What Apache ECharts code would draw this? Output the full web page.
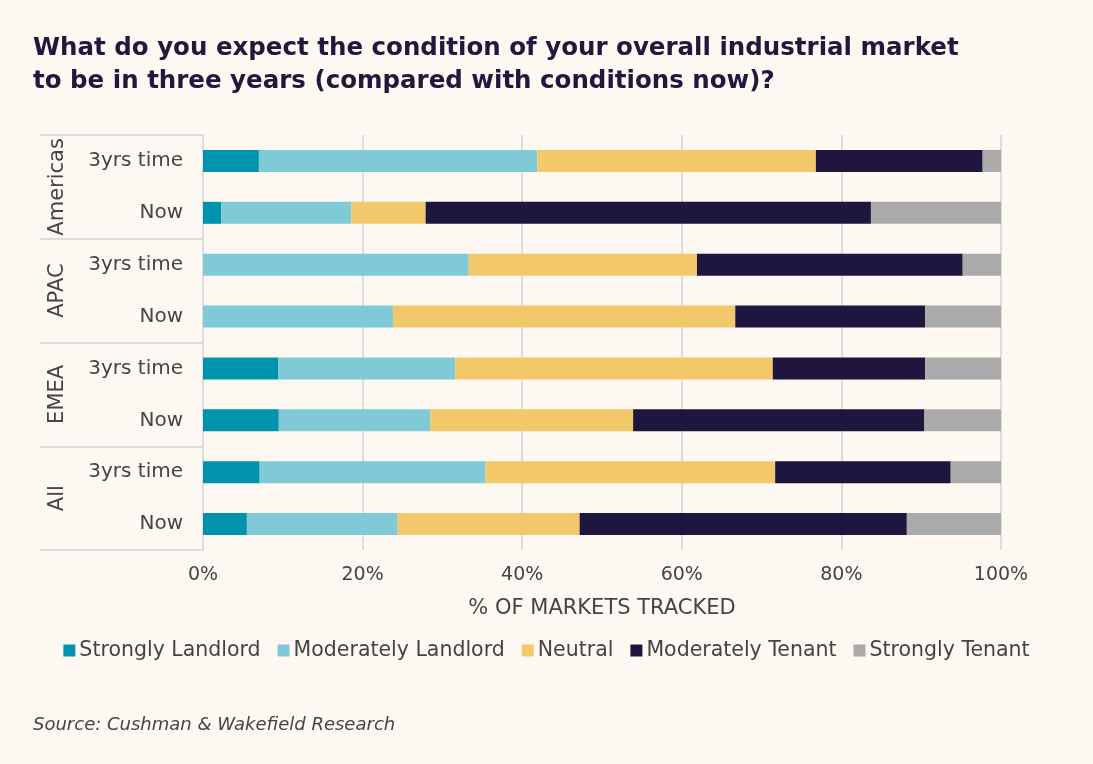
<!DOCTYPE html>
<html>
<head>
<meta charset="utf-8">
<script src="https://cdn.jsdelivr.net/npm/echarts@6/dist/echarts.min.js"></script>
<style>
  html, body { margin: 0; padding: 0; background: #fdf9f2; }
  #chart { width: 1093px; height: 764px; }
</style>
</head>
<body>
<div id="chart"></div>
<script>
// rows top to bottom
const rowLabels = ['3yrs time', 'Now', '3yrs time', 'Now', '3yrs time', 'Now', '3yrs time', 'Now'];
const regions = ['Americas', 'APAC', 'EMEA', 'All'];
const seriesNames = ['Strongly Landlord', 'Moderately Landlord', 'Neutral', 'Moderately Tenant', 'Strongly Tenant'];

// % of markets tracked, one value per row
const stronglyLandlord = [7.0, 2.3, 0, 0, 9.4, 9.5, 7.1, 5.5];
const moderatelyLandlord = [34.9, 16.3, 33.3, 23.8, 22.2, 19.0, 28.3, 18.9];
const neutral = [34.9, 9.3, 28.6, 42.9, 39.8, 25.4, 36.3, 22.8];
const moderatelyTenant = [20.9, 55.8, 33.3, 23.8, 19.1, 36.5, 22.0, 41.0];
const stronglyTenant = [2.3, 16.3, 4.8, 9.5, 9.5, 9.6, 6.3, 11.8];

const xTicks = [0, 20, 40, 60, 80, 100];

const colors = ['#0093ad', '#80c9d6', '#f3c86a', '#1e163e', '#aaaaaa'];
const textColor = '#444444';
const lineColor = '#dcdcdc';
const fontFamily = '"DejaVu Sans", sans-serif';

const chart = echarts.init(document.getElementById('chart'));

const values = [stronglyLandlord, moderatelyLandlord, neutral, moderatelyTenant, stronglyTenant];

chart.setOption({
  backgroundColor: '#fdf9f2',
  textStyle: { fontFamily },
  color: colors,
  title: [
    {
      text: 'What do you expect the condition of your overall industrial market\nto be in three years (compared with conditions now)?',
      left: 28,
      top: 27,
      textStyle: { fontSize: 24.5, fontWeight: 'bold', color: '#1e1a3e', lineHeight: 33, fontFamily }
    },
    {
      text: 'Source: Cushman & Wakefield Research',
      left: 28,
      top: 711,
      textStyle: { fontSize: 18, fontStyle: 'italic', fontWeight: 'normal', color: textColor, fontFamily }
    }
  ],
  legend: {
    data: seriesNames,
    left: 'center',
    top: 635,
    icon: 'rect',
    itemWidth: 12,
    itemHeight: 12,
    itemGap: 17,
    textStyle: { fontSize: 20.5, color: textColor, padding: [0, 0, 0, -1] }
  },
  grid: { left: 203, right: 92, top: 135, bottom: 214 },
  xAxis: {
    type: 'value',
    min: xTicks[0],
    max: xTicks[xTicks.length - 1],
    interval: 20,
    axisLine: { show: false },
    axisTick: { show: false },
    splitLine: { lineStyle: { color: lineColor, width: 2 } },
    axisLabel: { formatter: '{value}%', fontSize: 19, color: textColor, margin: 16 },
    name: '% OF MARKETS TRACKED',
    nameLocation: 'middle',
    nameGap: 48,
    nameTextStyle: { fontSize: 21, color: textColor }
  },
  yAxis: [
    {
      type: 'category',
      data: rowLabels,
      inverse: true,
      axisLine: { show: true, lineStyle: { color: lineColor, width: 2 } },
      axisTick: { show: false },
      axisLabel: { fontSize: 20, color: textColor, margin: 20 }
    },
    {
      type: 'category',
      data: regions,
      inverse: true,
      position: 'left',
      offset: 163,
      axisLine: { show: false },
      axisTick: { show: true, interval: 0, inside: true, length: 163, lineStyle: { color: lineColor, width: 2 } },
      axisLabel: { interval: 0, inside: true, rotate: 90, fontSize: 21, color: textColor, margin: 7 }
    }
  ],
  series: seriesNames.map((name, i) => ({
    name,
    type: 'bar',
    stack: 'total',
    barWidth: 22,
    yAxisIndex: 0,
    data: values[i],
    itemStyle: { color: colors[i] },
    emphasis: { disabled: true }
  }))
});
</script>
</body>
</html>
